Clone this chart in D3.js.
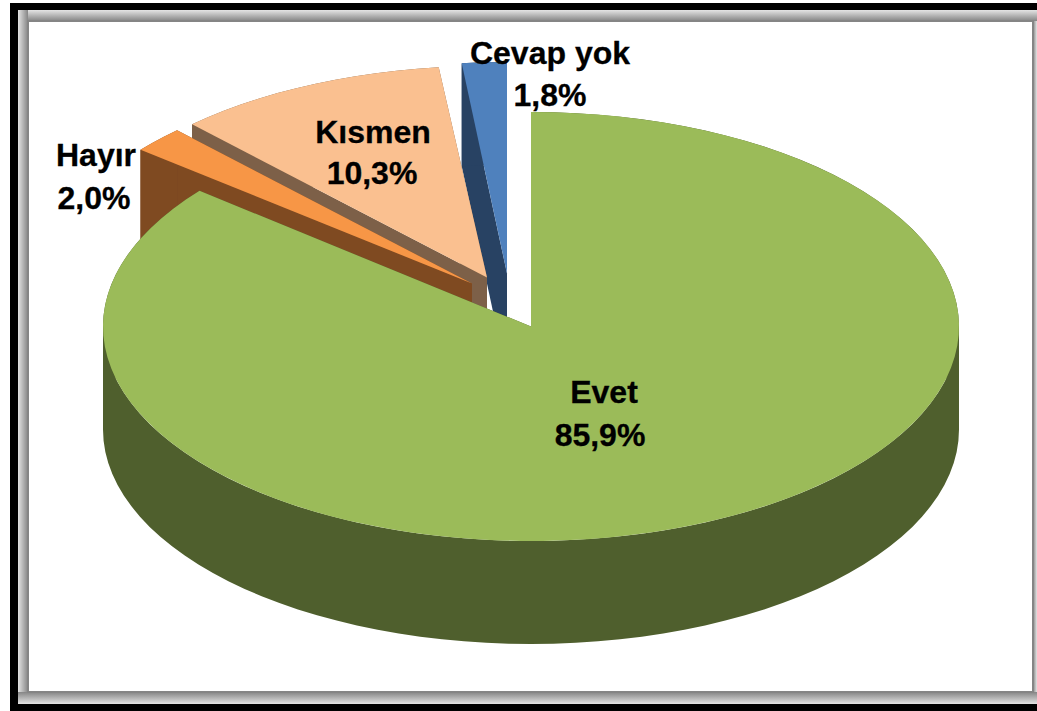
<!DOCTYPE html>
<html>
<head>
<meta charset="utf-8">
<script src="https://cdn.jsdelivr.net/npm/d3@7"></script>
<style>
html, body { margin: 0; padding: 0; background: #fff; overflow: hidden; }
text { font-family: "Liberation Sans", Arial, sans-serif; font-weight: bold; font-size: 32px; fill: #000; text-anchor: middle; stroke: #000; stroke-width: 0.3px; }
</style>
</head>
<body>
<script>
// chart data, in the order the slices run clockwise from 12 o'clock
const categories = ["Evet", "Hayır", "Kısmen", "Cevap yok"];
const values = [85.9, 2.0, 10.3, 1.8];
const valueLabels = ["85,9%", "2,0%", "10,3%", "1,8%"];

// colours per slice
const topColors = ["#9bbb59", "#f79646", "#fac090", "#4f81bd"];
const sideColors = ["#4f5f2d", "#7f4a21", "#7d6048", "#284263"];

// how far each slice is pulled out of the pie, its radii, label centres
const offsets = [[0, 0], [-59, -43], [-44, -49], [-24, -53]];
const radiiX = [428, 428, 428, 401];
const radiiY = [214.5, 211.5, 211.5, 211.5];
const namePos = [[604, 403], [96, 166], [373, 143], [550, 64]];
const valuePos = [[600, 446], [94, 209], [372, 184], [550, 106]];

const width = 1037, height = 711;
const cx = 531, cy = 326.5, depth = 103;
const facet = 3 * Math.PI / 180; // the original rim is faceted, not a smooth curve

const svg = d3.select("body").append("svg")
	.attr("width", width)
	.attr("height", height);

// frame: black outer line, grey bevel, white plot area
const defs = svg.append("defs");
const bevel = (id, x1, y1, x2, y2) => {
	const g = defs.append("linearGradient").attr("id", id)
		.attr("x1", x1).attr("y1", y1).attr("x2", x2).attr("y2", y2);
	g.append("stop").attr("offset", 0).attr("stop-color", "#e4e4e4");
	g.append("stop").attr("offset", 1).attr("stop-color", "#858585");
};
bevel("bevelTop", 0, 0, 0, 1);
bevel("bevelLeft", 0, 0, 1, 0);
bevel("bevelBottom", 0, 1, 0, 0);
bevel("bevelRight", 1, 0, 0, 0);

svg.append("rect").attr("x", 10).attr("y", 3).attr("width", 1027).attr("height", 708).attr("fill", "#000");
svg.append("rect").attr("x", 18).attr("y", 10).attr("width", 1019).attr("height", 694).attr("fill", "#c4c4c4");
svg.append("rect").attr("x", 18).attr("y", 10).attr("width", 1019).attr("height", 11).attr("fill", "url(#bevelTop)");
svg.append("rect").attr("x", 18).attr("y", 10).attr("width", 10).attr("height", 694).attr("fill", "url(#bevelLeft)");
svg.append("rect").attr("x", 18).attr("y", 692).attr("width", 1019).attr("height", 12).attr("fill", "url(#bevelBottom)");
svg.append("rect").attr("x", 1033).attr("y", 21).attr("width", 4).attr("height", 671).attr("fill", "url(#bevelRight)");
svg.append("rect").attr("x", 28).attr("y", 21).attr("width", 1005).attr("height", 671)
	.attr("fill", "#fff").attr("stroke", "#858585").attr("stroke-width", 2);

// slice angles come from d3.pie
const slices = d3.pie().sort(null).value(d => d)(values);

const px = (a, i) => cx + offsets[i][0] + radiiX[i] * Math.sin(a);
const py = (a, i) => cy + offsets[i][1] - radiiY[i] * Math.cos(a);
const line = d3.line();

// sample the rim between two angles, dy pushes it down to the bottom of the pie
const rim = (a0, a1, i, dy) => {
	const n = Math.max(1, Math.ceil((a1 - a0) / facet));
	return d3.range(0, n + 1).map(k => {
		const a = a0 + (a1 - a0) * k / n;
		return [px(a, i), py(a, i) + dy];
	});
};
const apex = (i, dy) => [cx + offsets[i][0], cy + offsets[i][1] + dy];

// cut face of a slice at angle a
const cutFace = (a, i) => line([
	apex(i, 0), [px(a, i), py(a, i)],
	[px(a, i), py(a, i) + depth], apex(i, depth)
]) + "Z";

// the wall is split at the left and right extremes of the ellipse,
// otherwise the back and front parts cancel out in the fill
const wallParts = s => {
	const cuts = [s.startAngle, Math.PI / 2, 3 * Math.PI / 2, s.endAngle]
		.filter(a => a >= s.startAngle && a <= s.endAngle);
	return d3.pairs(cuts);
};

// back slices first, Evet last since it sits in front of everything
const order = [3, 2, 1, 0];
order.forEach(i => {
	const s = slices[i];
	const g = svg.append("g");
	g.append("path").attr("d", cutFace(s.startAngle, i)).attr("fill", sideColors[i]);
	g.append("path").attr("d", cutFace(s.endAngle, i)).attr("fill", sideColors[i]);
	// outer wall
	wallParts(s).forEach(p => {
		g.append("path")
			.attr("d", line(rim(p[0], p[1], i, 0).concat(rim(p[0], p[1], i, depth).reverse())) + "Z")
			.attr("fill", sideColors[i]);
	});
	// top face
	g.append("path")
		.attr("d", line([apex(i, 0)].concat(rim(s.startAngle, s.endAngle, i, 0))) + "Z")
		.attr("fill", topColors[i]);
});

// labels: name on the first line, share on the second
categories.forEach((c, i) => {
	svg.append("text").attr("x", namePos[i][0]).attr("y", namePos[i][1]).text(c);
	svg.append("text").attr("x", valuePos[i][0]).attr("y", valuePos[i][1]).text(valueLabels[i]);
});
</script>
</body>
</html>
